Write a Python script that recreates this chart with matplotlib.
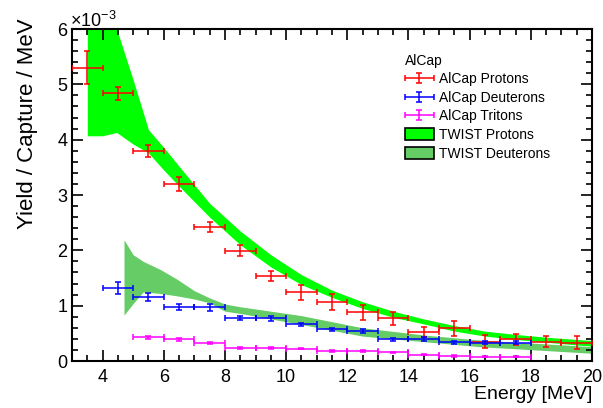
import numpy as np
import matplotlib
matplotlib.use('Agg')
import matplotlib.pyplot as plt
from matplotlib.patches import Patch
from matplotlib.ticker import MultipleLocator
from matplotlib.legend_handler import HandlerErrorbar

plt.rcParams['font.family'] = ['Liberation Sans', 'DejaVu Sans']
plt.rcParams['mathtext.fontset'] = 'custom'
plt.rcParams['mathtext.rm'] = 'Liberation Sans'

# ── data (yields in units of 1e-3 / capture / MeV) ───────────────────────────
p_energy = [3.5, 4.5, 5.5, 6.5, 7.5, 8.5, 9.5, 10.5, 11.5, 12.5, 13.5, 14.5, 15.5, 16.5, 17.5, 18.5, 19.5]
p_yield  = [5.30, 4.84, 3.80, 3.20, 2.43, 1.99, 1.53, 1.24, 1.07, 0.88, 0.77, 0.52, 0.59, 0.35, 0.39, 0.35, 0.33]
p_err    = [0.30, 0.12, 0.11, 0.12, 0.09, 0.10, 0.09, 0.13, 0.14, 0.13, 0.12, 0.09, 0.14, 0.12, 0.10, 0.10, 0.12]

d_energy = [4.5, 5.5, 6.5, 7.5, 8.5, 9.5, 10.5, 11.5, 12.5, 13.5, 14.5, 15.5, 16.5, 17.5]
d_yield  = [1.32, 1.16, 0.98, 0.97, 0.78, 0.77, 0.66, 0.57, 0.54, 0.39, 0.40, 0.34, 0.33, 0.33]
d_err    = [0.11, 0.07, 0.05, 0.06, 0.04, 0.04, 0.03, 0.03, 0.03, 0.03, 0.03, 0.03, 0.03, 0.03]

t_energy = [5.5, 6.5, 7.5, 8.5, 9.5, 10.5, 11.5, 12.5, 13.5, 14.5, 15.5, 16.5, 17.5]
t_yield  = [0.43, 0.39, 0.32, 0.24, 0.23, 0.22, 0.18, 0.18, 0.16, 0.11, 0.09, 0.08, 0.08]
t_err    = [0.03, 0.02, 0.02, 0.02, 0.02, 0.01, 0.01, 0.01, 0.01, 0.01, 0.01, 0.01, 0.01]

bin_half = 0.5

# TWIST bands (upper / lower edge)
twp_energy = [3.5, 4.0, 4.46, 5.0, 5.5, 6.0, 6.5, 7.5, 8.5, 9.5, 10.5, 11.5, 12.5, 13.5, 14.5, 15.5, 16.5, 17.5, 18.5, 19.5, 20.0]
twp_upper  = [7.0, 7.0, 6.0, 5.08, 4.18, 3.86, 3.52, 2.85, 2.35, 1.92, 1.56, 1.28, 1.07, 0.90, 0.76, 0.64, 0.54, 0.48, 0.43, 0.39, 0.37]
twp_lower  = [4.07, 4.07, 4.13, 3.92, 3.76, 3.45, 3.16, 2.60, 2.10, 1.70, 1.38, 1.15, 0.95, 0.79, 0.67, 0.54, 0.45, 0.39, 0.34, 0.29, 0.27]

twd_energy = [4.7, 5.0, 5.33, 5.9, 6.4, 7.0, 7.5, 8.0, 8.5, 10.5, 12.5, 14.5, 16.3, 20.0]
twd_upper  = [2.19, 1.92, 1.80, 1.65, 1.49, 1.27, 1.14, 1.03, 0.98, 0.82, 0.60, 0.47, 0.38, 0.26]
twd_lower  = [0.83, 1.04, 1.25, 1.22, 1.18, 1.12, 1.05, 0.90, 0.86, 0.66, 0.45, 0.35, 0.26, 0.14]

C_TWP = '#00ff00'
C_TWD = '#66cc66'

# ── figure ───────────────────────────────────────────────────────────────────
fig = plt.figure(figsize=(6.03, 4.08), dpi=100)
ax = fig.add_axes([72/603, 1 - 361/408, 520/603, 332/408])

ax.fill_between(twp_energy, twp_lower, twp_upper, color=C_TWP, lw=0, zorder=1)
ax.fill_between(twd_energy, twd_lower, twd_upper, color=C_TWD, lw=0, zorder=1)

eb_kw = dict(fmt='none', elinewidth=1.1, capsize=2, capthick=1.1, zorder=3)
eb_p = ax.errorbar(p_energy, p_yield, xerr=bin_half, yerr=p_err, ecolor='#ff0000', **eb_kw)
eb_d = ax.errorbar(d_energy, d_yield, xerr=bin_half, yerr=d_err, ecolor='#0000ff', **eb_kw)
eb_t = ax.errorbar(t_energy, t_yield, xerr=bin_half, yerr=t_err, ecolor='#ff00ff', **eb_kw)

ax.set_xlim(3, 20)
ax.set_ylim(0, 6)
ax.xaxis.set_major_locator(MultipleLocator(2))
ax.xaxis.set_minor_locator(MultipleLocator(0.5))
ax.yaxis.set_major_locator(MultipleLocator(1))
ax.yaxis.set_minor_locator(MultipleLocator(0.2))
ax.tick_params(which='both', direction='in', top=True, right=True, width=1.2, labelsize=13)
ax.tick_params(which='major', length=8)
ax.tick_params(which='minor', length=4)
ax.tick_params(axis='x', pad=6)
for s in ax.spines.values():
    s.set_linewidth(1.5)

ax.set_xlabel('Energy [MeV]', loc='right', fontsize=14, labelpad=0)
ax.set_ylabel('Yield / Capture / MeV', loc='top', fontsize=16)
ax.yaxis.set_label_coords(-0.066, 1.033)
fig.text(70/603, 1 - 27/408, r'×10$^{-3}$', fontsize=13, ha='left', va='baseline')

handles = [eb_p, eb_d, eb_t,
           Patch(facecolor=C_TWP, edgecolor='black', lw=1.2),
           Patch(facecolor=C_TWD, edgecolor='black', lw=1.2)]
labels = ['AlCap Protons', 'AlCap Deuterons', 'AlCap Tritons', 'TWIST Protons', 'TWIST Deuterons']
leg = ax.legend(handles, labels, title='AlCap', alignment='left', frameon=False,
                fontsize=10, title_fontsize=10, loc='upper left',
                bbox_to_anchor=(395/603, 1 - 44/408), bbox_transform=fig.transFigure,
                handlelength=2.1, handleheight=0.95, handletextpad=0.4,
                labelspacing=0.33, borderpad=0.2,
                handler_map={type(eb_p): HandlerErrorbar(xerr_size=1.05, yerr_size=0.36)})

fig.savefig('out.png', dpi=100)
